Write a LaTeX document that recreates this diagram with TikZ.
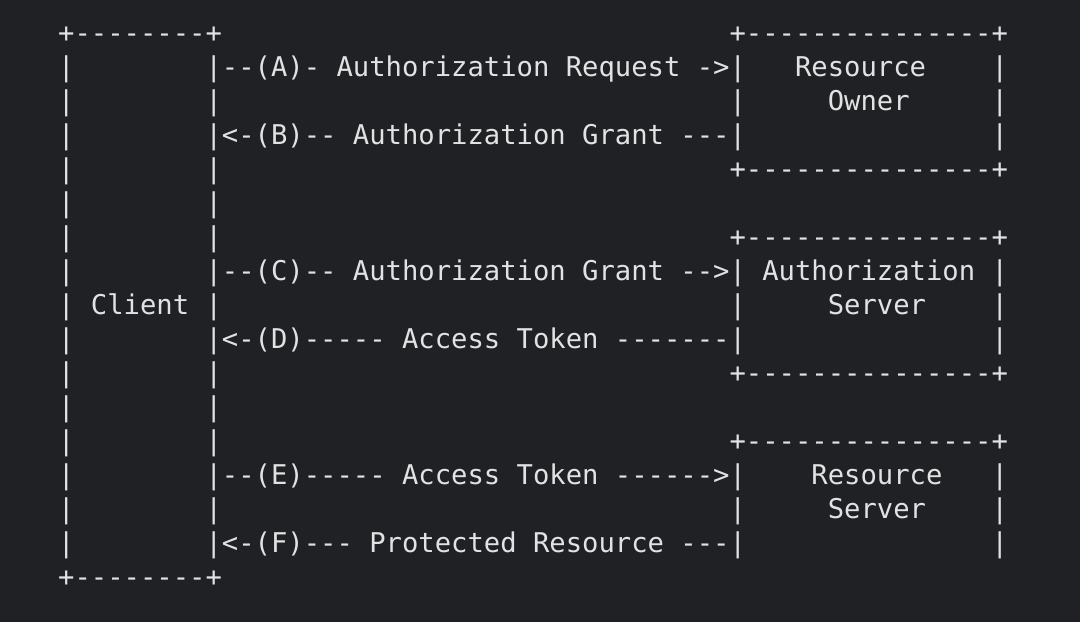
\documentclass[tikz,border=0pt]{standalone}
\usepackage{fontspec}
\setmonofont{DejaVu Sans Mono}
\definecolor{bg}{RGB}{31,33,37}
\definecolor{fg}{RGB}{226,226,226}
\tikzset{row/.style={anchor=west,inner sep=0pt,text=fg,font=\ttfamily\fontsize{27.2pt}{34pt}\selectfont,text height=0.72em,text depth=0.2em}}
\begin{document}
\begin{tikzpicture}[x=1pt,y=-1pt]
\fill[bg] (0,0) rectangle (1080,622);
\useasboundingbox (0,0) rectangle (1080,622);
\def\L{58}
\begin{scope}[yshift=-7pt]
\node[row] (r0)  at (\L,33)  {+--------+~~~~~~~~~~~~~~~~~~~~~~~~~~~~~~~+---------------+};
\node[row] (r1)  at (\L,67)  {|~~~~~~~~|--(A)-~Authorization~Request~->|~~~Resource~~~~|};
\node[row] (r2)  at (\L,101) {|~~~~~~~~|~~~~~~~~~~~~~~~~~~~~~~~~~~~~~~~|~~~~~Owner~~~~~|};
\node[row] (r3)  at (\L,135) {|~~~~~~~~|<-(B)--~Authorization~Grant~---|~~~~~~~~~~~~~~~|};
\node[row] (r4)  at (\L,169) {|~~~~~~~~|~~~~~~~~~~~~~~~~~~~~~~~~~~~~~~~+---------------+};
\node[row] (r5)  at (\L,203) {|~~~~~~~~|};
\node[row] (r6)  at (\L,237) {|~~~~~~~~|~~~~~~~~~~~~~~~~~~~~~~~~~~~~~~~+---------------+};
\node[row] (r7)  at (\L,271) {|~~~~~~~~|--(C)--~Authorization~Grant~-->|~Authorization~|};
\node[row] (r8)  at (\L,305) {|~Client~|~~~~~~~~~~~~~~~~~~~~~~~~~~~~~~~|~~~~~Server~~~~|};
\node[row] (r9)  at (\L,339) {|~~~~~~~~|<-(D)-----~Access~Token~-------|~~~~~~~~~~~~~~~|};
\node[row] (r10) at (\L,373) {|~~~~~~~~|~~~~~~~~~~~~~~~~~~~~~~~~~~~~~~~+---------------+};
\node[row] (r11) at (\L,407) {|~~~~~~~~|};
\node[row] (r12) at (\L,441) {|~~~~~~~~|~~~~~~~~~~~~~~~~~~~~~~~~~~~~~~~+---------------+};
\node[row] (r13) at (\L,475) {|~~~~~~~~|--(E)-----~Access~Token~------>|~~~~Resource~~~|};
\node[row] (r14) at (\L,509) {|~~~~~~~~|~~~~~~~~~~~~~~~~~~~~~~~~~~~~~~~|~~~~~Server~~~~|};
\node[row] (r15) at (\L,543) {|~~~~~~~~|<-(F)---~Protected~Resource~---|~~~~~~~~~~~~~~~|};
\node[row] (r16) at (\L,577) {+--------+};
\end{scope}
\end{tikzpicture}
\end{document}
